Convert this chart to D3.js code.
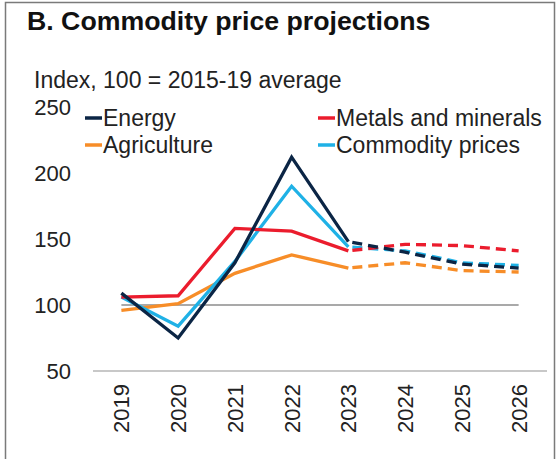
<!DOCTYPE html>
<html>
<head>
<meta charset="utf-8">
<script src="https://cdn.jsdelivr.net/npm/d3@7"></script>
<style>
  body { margin: 0; background: white; }
  text { font-family: "Liberation Sans", Arial, sans-serif; }
</style>
</head>
<body>
<script>
//Width and height
var w = 558;
var h = 459;

// data (2023-2026 = projections)
var years = ["2019", "2020", "2021", "2022", "2023", "2024", "2025", "2026"];
var energy = [109, 75, 132, 212, 148, 140, 131, 128];
var metals = [106, 107, 158, 156, 141, 146, 145, 141];
var agriculture = [96, 101, 124, 138, 128, 132, 126, 125];
var commodity = [106, 84, 133, 190, 144, 141, 132, 130];
var yTicks = [50, 100, 150, 200, 250];
var firstForecast = 4; // index of 2023, dashes start here

var series = [
  { name: "Agriculture", values: agriculture, color: "#f78d28" },
  { name: "Commodity prices", values: commodity, color: "#1fb1e6" },
  { name: "Metals and minerals", values: metals, color: "#eb1c2d" },
  { name: "Energy", values: energy, color: "#0b2545" }
];

var svg = d3.select("body")
            .append("svg")
            .attr("width", w)
            .attr("height", h)
            .style("background", "white");

// frame
svg.append("path")
   .attr("d", "M5.5," + h + "V2.5H554.5V" + h)
   .attr("fill", "none")
   .attr("stroke", "#7a7a7a")
   .attr("stroke-width", 1.5);

svg.append("text")
   .attr("x", 27)
   .attr("y", 30)
   .attr("font-size", "26.7px")
   .attr("font-weight", "bold")
   .attr("fill", "#111")
   .text("B. Commodity price projections");

svg.append("text")
   .attr("x", 34)
   .attr("y", 88)
   .attr("font-size", "23px")
   .attr("fill", "#222")
   .text("Index, 100 = 2015-19 average");

var x = d3.scaleBand()
          .domain(years)
          .range([93, 547]);

var y = d3.scaleLinear()
          .domain([50, 250])
          .range([371, 107]);

function cx(i) { return x(years[i]) + x.bandwidth() / 2; }

// y tick labels
svg.selectAll(".ytick")
   .data(yTicks)
   .enter()
   .append("text")
   .attr("class", "ytick")
   .attr("x", 71)
   .attr("y", d => y(d))
   .attr("dy", "0.36em")
   .attr("text-anchor", "end")
   .attr("font-size", "22px")
   .attr("fill", "#222")
   .text(d => d);

// baseline at 50
svg.append("line")
   .attr("x1", x.range()[0])
   .attr("x2", x.range()[1])
   .attr("y1", y(50))
   .attr("y2", y(50))
   .attr("stroke", "#c8c8c8")
   .attr("stroke-width", 2);

// reference line at 100
svg.append("line")
   .attr("x1", cx(0))
   .attr("x2", cx(years.length - 1))
   .attr("y1", y(100))
   .attr("y2", y(100))
   .attr("stroke", "#8c8c8c")
   .attr("stroke-width", 1.5);

// x labels, rotated
svg.selectAll(".xtick")
   .data(years)
   .enter()
   .append("text")
   .attr("class", "xtick")
   .attr("transform", d => "translate(" + (x(d) + x.bandwidth() / 2) + ",433) rotate(-90)")
   .attr("dy", "0.36em")
   .attr("font-size", "22px")
   .attr("fill", "#222")
   .text(d => d);

var line = d3.line()
             .x(d => cx(d.i))
             .y(d => y(d.v));

series.forEach(function(s) {
  var pts = s.values.map((v, i) => ({ v: v, i: i }));
  svg.append("path")
     .attr("d", line(pts.slice(0, firstForecast + 1)))
     .attr("fill", "none")
     .attr("stroke", s.color)
     .attr("stroke-width", 3.3)
     .attr("stroke-linejoin", "miter");
  svg.append("path")
     .attr("d", line(pts.slice(firstForecast)))
     .attr("fill", "none")
     .attr("stroke", s.color)
     .attr("stroke-width", 3.3)
     .attr("stroke-dasharray", "10,6")
     .attr("stroke-dashoffset", -4);
});

// legend
var legend = [
  { name: "Energy", color: "#0b2545", x: 85, y: 118 },
  { name: "Metals and minerals", color: "#eb1c2d", x: 318, y: 118 },
  { name: "Agriculture", color: "#f78d28", x: 85, y: 145 },
  { name: "Commodity prices", color: "#1fb1e6", x: 318, y: 145 }
];

var lg = svg.selectAll(".legend")
            .data(legend)
            .enter()
            .append("g")
            .attr("class", "legend")
            .attr("transform", d => "translate(" + d.x + "," + d.y + ")");

lg.append("line")
  .attr("x1", 0)
  .attr("x2", 17)
  .attr("stroke", d => d.color)
  .attr("stroke-width", 3.5);

lg.append("text")
  .attr("x", 18)
  .attr("dy", "0.36em")
  .attr("font-size", "23px")
  .attr("fill", "#222")
  .text(d => d.name);
</script>
</body>
</html>
